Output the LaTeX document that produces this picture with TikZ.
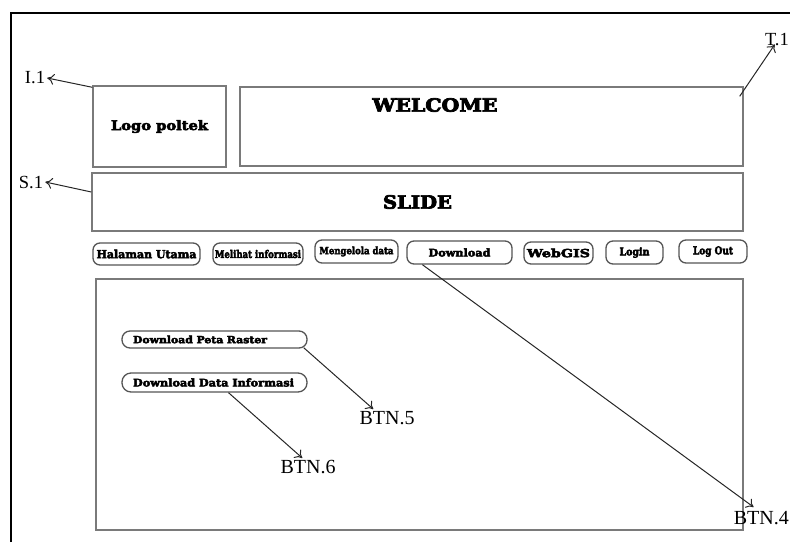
\documentclass[tikz,border=0pt]{standalone}
\usepackage{fontspec}
\usepackage{graphicx}
\setmainfont{Liberation Serif}
\newfontfamily\slabfont[BoldFeatures={FakeBold=4}]{DejaVu Serif}
\usetikzlibrary{arrows.meta,calc}
% heavy slab text squeezed into a given width and height
\newcommand\fittext[3]{\resizebox{#1pt}{#2pt}{\slabfont\bfseries #3}}
\definecolor{boxgray}{HTML}{7A7A7A}
\definecolor{btngray}{HTML}{555555}
\begin{document}
\begin{tikzpicture}[x=1pt,y=-1pt,
  panel/.style={draw=boxgray,line width=1.4pt,rectangle,inner sep=0pt},
  btn/.style={draw=btngray,line width=1.3pt,rectangle,rounded corners=7pt,inner sep=0pt},
  tag/.style={inner sep=0pt,font=\fontsize{18.5}{18.5}\selectfont},
  btntag/.style={inner sep=0pt,font=\fontsize{20}{20}\selectfont},
  arr/.style={draw=black!85,line width=1pt,-{To[length=7pt,width=11pt]}}]
\useasboundingbox (0,0) rectangle (790,542);
% outer frame
\draw[line width=2pt] (11,542) -- (11,13) -- (790,13);

% header panels
\node[panel,minimum width=133pt,minimum height=81pt] (logo) at (159.5,126.5)
  {\fittext{97}{10}{Logo poltek}};
\node[panel,minimum width=503pt,minimum height=79pt] (welcome) at (491.5,126.5) {};
\node[inner sep=0pt] (welcometext) at (435,105) {\fittext{125}{13.5}{WELCOME}};
\node[panel,minimum width=651pt,minimum height=58pt] (slide) at (417.5,202)
  {\fittext{69}{13.5}{SLIDE}};

% menu buttons
\node[btn,minimum width=107pt,minimum height=22pt] (halaman) at (146.5,254)
  {\fittext{100}{8.5}{Halaman Utama}};
\node[btn,minimum width=90pt,minimum height=22pt] (melihat) at (258,254)
  {\fittext{86}{8}{Melihat informasi}};
\node[btn,minimum width=83pt,minimum height=23pt] (mengelola) at (356.5,251.5)
  {\fittext{74}{7.5}{Mengelola data}};
\node[btn,minimum width=105pt,minimum height=23pt] (download) at (459.5,252.5)
  {\fittext{62}{8}{Download}};
\node[btn,minimum width=69pt,minimum height=22pt] (webgis) at (558.5,253)
  {\fittext{63}{8.5}{WebGIS}};
\node[btn,minimum width=57pt,minimum height=23pt] (login) at (634.5,252.5)
  {\fittext{30}{8}{Login}};
\node[btn,minimum width=68pt,minimum height=23pt] (logout) at (713,251.5)
  {\fittext{40}{8}{Log Out}};

% content panel
\node[panel,minimum width=647pt,minimum height=251pt] (content) at (419.5,404.5) {};

% download sub-buttons
\node[btn,rounded corners=8pt,minimum height=17pt,text width=163pt,inner xsep=11pt,align=left] (peta) at (214.5,339.5)
  {\fittext{134}{7.5}{Download Peta Raster}};
\node[btn,rounded corners=9pt,minimum height=19pt,text width=163pt,inner xsep=11pt,align=left] (datainfo) at (214.5,382.5)
  {\fittext{161}{8}{Download Data Informasi}};

% element tags
\node[tag] (I1) at (35,78) {I.1};
\node[tag] (S1) at (31,182) {S.1};
\node[tag,anchor=east] (T1) at (789,40) {T.1};
\node[btntag] (btn5) at (387,418) {BTN.5};
\node[btntag] (btn6) at (308,467) {BTN.6};
\node[btntag,anchor=east] (btn4) at (789,518) {BTN.4};

% tag arrows
\draw[arr] ($(logo.north west)+(0,2)$) -- ($(I1.east)+(2,0)$);
\draw[arr] ($(slide.west)+(0,-10)$) -- ($(S1.east)+(2,0)$);
\draw[arr] ($(welcome.north east)+(-4,10)$) -- ($(T1.south west)+(10,-2)$);
\draw[arr] ($(peta.south east)+(-4,-1)$) -- ($(btn5.north west)+(14,-2)$);
\draw[arr] ($(datainfo.south)+(14,0)$) -- ($(btn6.north west)+(22,-2)$);
\draw[arr] ($(download.south west)+(16,0)$) -- ($(btn4.north west)+(20,-4)$);
\end{tikzpicture}
\end{document}
